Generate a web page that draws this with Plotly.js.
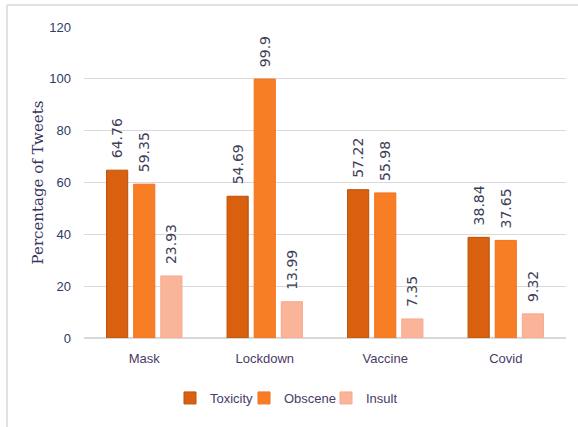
<!DOCTYPE html>
<html>
<head>
<meta charset="utf-8">
<script src="https://cdn.plot.ly/plotly-3.0.1.min.js"></script>
<style>
  html, body { margin: 0; padding: 0; background: #ffffff; }
  #chart { width: 578px; height: 427px; }
</style>
</head>
<body>
<div id="chart"></div>
<script>
const categories = ["Mask", "Lockdown", "Vaccine", "Covid"];
const toxicity = [64.76, 54.69, 57.22, 38.84];
const obscene = [59.35, 99.9, 55.98, 37.65];
const insult = [23.93, 13.99, 7.35, 9.32];
const seriesNames = ["Toxicity", "Obscene", "Insult"];
const yTicks = [0, 20, 40, 60, 80, 100, 120];

const fills = ["#D8600F", "#F77E25", "#F9B49A"];
const edges = ["#B9520C", "#EE7420", "#F6AA8C"];
const legendWidths = [29, 37, null];
const labelFont = { family: "DejaVu Sans", size: 14, color: "#3E3E58" };

function mk(name, vals, i) {
  const t = {
    type: "bar",
    name: name,
    x: categories,
    y: vals,
    text: vals.map(v => "\u00A0\u00A0" + String(v)),
    textposition: "outside",
    textangle: -90,
    constraintext: "none",
    cliponaxis: false,
    textfont: labelFont,
    marker: { color: fills[i], line: { color: edges[i], width: 1 } },
    hoverinfo: "skip"
  };
  if (legendWidths[i]) t.legendwidth = legendWidths[i];
  return t;
}

const data = [
  mk(seriesNames[0], toxicity, 0),
  mk(seriesNames[1], obscene, 1),
  mk(seriesNames[2], insult, 2)
];

const W = 482, H = 311, L = 84, T = 27;
function px(x) { return (x - L) / W; }
function py(y) { return (T + H - y) / H; }

const layout = {
  width: 578,
  height: 427,
  margin: { l: 84, r: 12, t: 27, b: 89 },
  paper_bgcolor: "#ffffff",
  plot_bgcolor: "#ffffff",
  barmode: "group",
  bargap: 0.325,
  bargroupgap: 0.22,
  showlegend: true,
  legend: {
    orientation: "h",
    x: px(170), xanchor: "left",
    y: py(398), yanchor: "middle",
    font: { family: "Liberation Sans", size: 13, color: "#4A3B68" },
    itemwidth: 30,
    traceorder: "normal"
  },
  xaxis: {
    type: "category",
    showgrid: false,
    showline: false,
    zeroline: false,
    ticks: "",
    tickfont: { family: "Liberation Sans", size: 13, color: "#4A3B68" },
    ticklabelstandoff: 11
  },
  yaxis: {
    range: [0, 120],
    tickvals: yTicks,
    ticktext: yTicks.map(String),
    showgrid: true,
    gridcolor: "#D9D9D9",
    gridwidth: 1.3,
    zeroline: true,
    zerolinecolor: "#D9D9D9",
    zerolinewidth: 1.3,
    showline: false,
    ticks: "",
    ticklabelstandoff: 12,
    tickfont: { family: "Liberation Sans", size: 13, color: "#2E3A68" },
    title: {
      text: "Percentage of Tweets",
      font: { family: "DejaVu Serif", size: 15, color: "#33335C" },
      standoff: 2
    }
  },
  shapes: [
    { type: "line", xref: "paper", yref: "paper", x0: px(7), x1: px(600), y0: py(5), y1: py(5),
      line: { color: "#D9D9D9", width: 1.5 } },
    { type: "line", xref: "paper", yref: "paper", x0: px(7), x1: px(7), y0: py(5), y1: py(440),
      line: { color: "#D9D9D9", width: 1.5 } }
  ]
};

Plotly.newPlot("chart", data, layout, { displayModeBar: false, staticPlot: true });
</script>
</body>
</html>
